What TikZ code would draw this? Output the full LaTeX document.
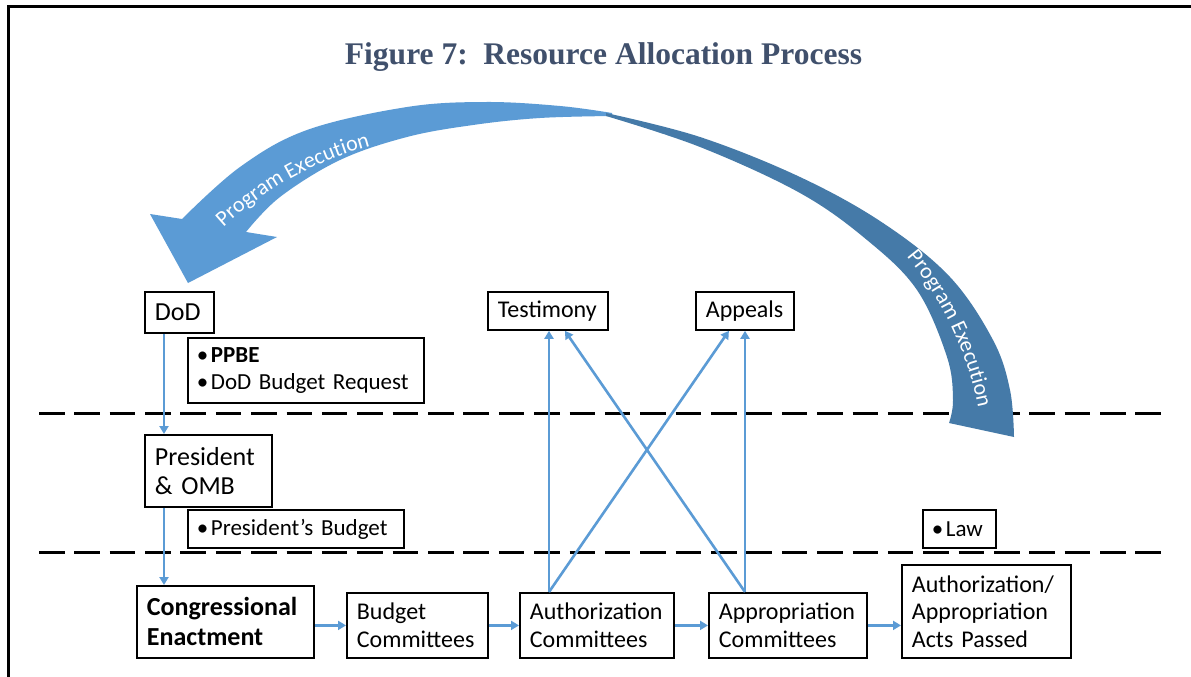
\documentclass[tikz,border=0pt]{standalone}
\usepackage{fontspec}
\setmainfont{Carlito}
\newfontfamily\titlefont{Liberation Serif}
\usetikzlibrary{arrows.meta,decorations.text}
\definecolor{lb}{RGB}{91,155,213}
\definecolor{db}{RGB}{69,122,168}
\definecolor{tc}{RGB}{64,80,108}
\newcommand{\mybul}{\makebox[14pt][l]{•}}
\begin{document}
\begin{tikzpicture}[x=1pt,y=-1pt,
  box/.style={draw=black, line width=1.8pt, fill=white, anchor=north west, inner ysep=0pt, inner xsep=10pt, align=left, font=\fontsize{24}{28}\selectfont},
  bigtxt/.style={font=\fontsize{26}{29.5}\selectfont},
  bultxt/.style={inner xsep=9pt, font=\fontsize{23}{27}\selectfont},
  conn/.style={draw=lb, line width=2.6pt, -{Triangle[length=8pt,width=9pt]}},
  sep/.style={draw=black, line width=3pt, dash pattern=on 25.5pt off 9.87pt},
  arrtext/.style={decorate, decoration={text along path, text align=center, text={|\fontsize{22}{26}\selectfont\color{white}|Program Execution}}}
]
\useasboundingbox (0,0) rectangle (1191,677);
\fill[white] (0,0) rectangle (1191,677);
\draw[line width=3pt] (8,677) -- (8,7) -- (1191,7);
\node[anchor=base, text=tc, font=\titlefont\bfseries\fontsize{31.5}{36}\selectfont] (title) at (603.5,64) {Figure 7:\ \ Resource Allocation Process};

% separators
\draw[sep] (39,413) -- (1161,413);
\draw[sep] (39,552) -- (1161,552);

% big curved arrow (program execution)
\fill[lb] (188,283) -- (150,214) -- (182,219)
  -- plot[smooth, tension=0.6] coordinates {(182,219) (240,167) (307,130) (407,107) (486,102) (560,106) (612,113)}
  -- plot[smooth, tension=0.6] coordinates {(612,116) (540,118) (473,125) (407,137) (340,160) (280,197) (246,232)}
  -- (277,237) -- cycle;
\fill[db] plot[smooth, tension=0.6] coordinates {(606,113) (700,137) (800,177) (883,223) (950,277) (993,340) (1010,390) (1014,437)}
  -- plot[smooth, tension=0.6] coordinates {(949,423) (953,400) (947,357) (917,290) (867,240) (800,193) (700,147) (606,116)} -- cycle;
\path[arrtext] (200,250) .. controls (252,196) and (312,156) .. (402,139);
\path[arrtext] (887,235) .. controls (937,285) and (973,355) .. (983,437);

% boxes
\node[box, bigtxt, minimum width=69pt, minimum height=41pt, text width=49pt] (DoD) at (144,291) {DoD};
\node[box, bultxt, minimum width=236pt, minimum height=65pt, text width=218pt] (ppbe) at (187,337) {\mybul\textbf{PPBE}\\\mybul DoD~Budget~Request};
\node[box, bigtxt, minimum width=127pt, minimum height=72pt, text width=107pt] (Pres) at (144,434) {President\\\&~OMB};
\node[box, bultxt, minimum width=216pt, minimum height=38pt, text width=198pt] (pb) at (187,509) {\mybul President’s~Budget};
\node[box, minimum width=177pt, minimum height=72pt, text width=157pt, font=\bfseries\fontsize{26}{30}\selectfont] (Cong) at (136,585) {Congressional\\Enactment};
\node[box, minimum width=141pt, minimum height=65pt, text width=121pt] (Bud) at (346,592) {Budget\\Committees};
\node[box, minimum width=154pt, minimum height=65pt, text width=134pt] (Auth) at (519,592) {Authorization\\Committees};
\node[box, minimum width=158pt, minimum height=65pt, text width=138pt] (Approp) at (708,592) {Appropriation\\Committees};
\node[box, minimum width=169pt, minimum height=93pt, text width=149pt, font=\fontsize{24}{27.5}\selectfont] (Acts) at (901,564) {Authorization/\\Appropriation\\Acts~Passed};
\node[box, minimum width=120pt, minimum height=38pt, text width=100pt] (Test) at (487,291) {Testimony};
\node[box, minimum width=98pt, minimum height=38pt, text width=78pt] (App) at (695,291) {Appeals};
\node[box, bultxt, minimum width=73pt, minimum height=38pt, text width=55pt] (Law) at (922,509) {\mybul Law};

% connectors
\coordinate (vx) at (164,0);
\coordinate (ax) at (549,0);
\coordinate (bx) at (745,0);
\draw[conn] (vx |- DoD.south) -- (vx |- Pres.north);
\draw[conn] (vx |- Pres.south) -- (vx |- Cong.north);
\draw[conn] (Cong.east |- Bud.west) -- (Bud.west);
\draw[conn] (Bud.east) -- (Auth.west);
\draw[conn] (Auth.east) -- (Approp.west);
\draw[conn] (Approp.east) -- (Acts.west |- Approp.east);
\draw[conn] (ax |- Auth.north) -- (ax |- Test.south);
\draw[conn] (ax |- Auth.north) -- ([xshift=-16pt]App.south);
\draw[conn] (bx |- Approp.north) -- (bx |- App.south);
\draw[conn] (bx |- Approp.north) -- ([xshift=17pt]Test.south);
\end{tikzpicture}
\end{document}
